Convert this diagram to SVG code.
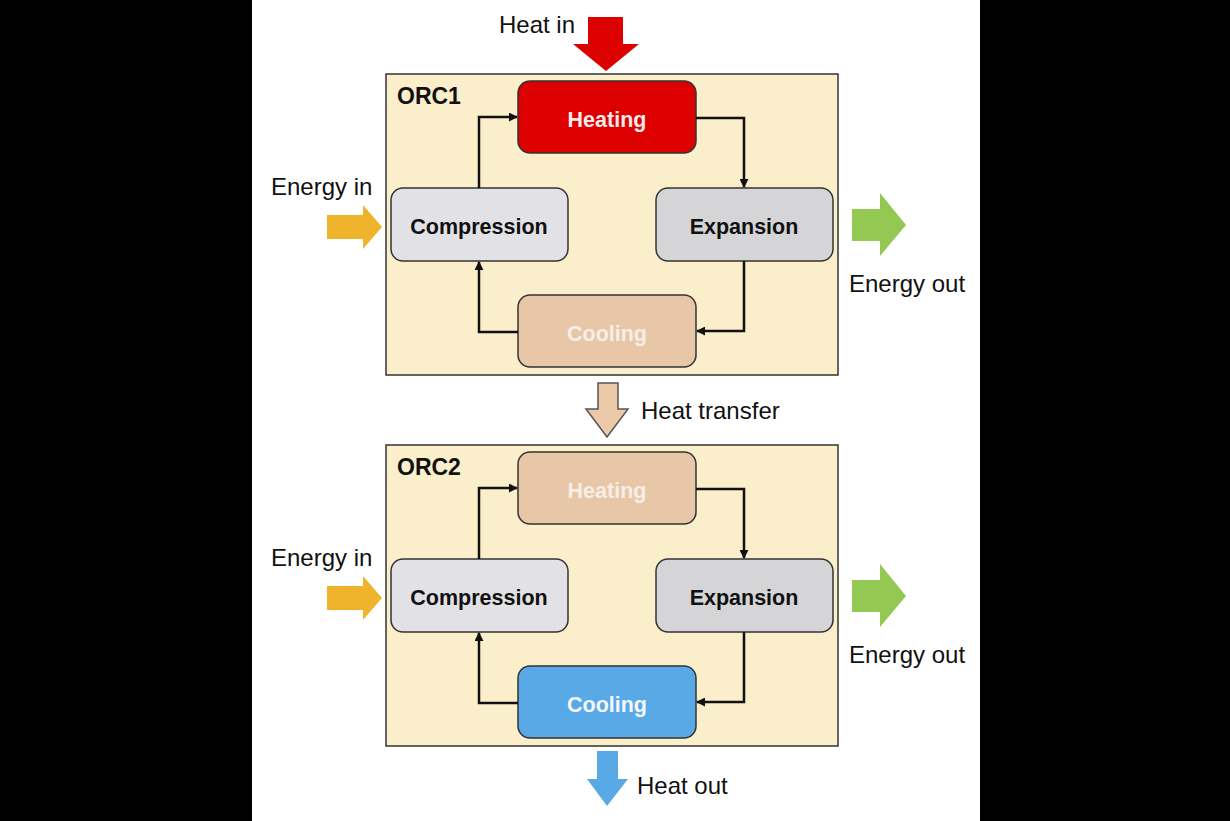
<svg xmlns="http://www.w3.org/2000/svg" width="1230" height="821" viewBox="0 0 1230 821">
<defs>
<style>
.lbl{font-family:"Liberation Sans",Arial,sans-serif;font-size:24px;fill:#111}
.orc{font-family:"Liberation Sans",Arial,sans-serif;font-size:23px;font-weight:bold;fill:#111}
.nt{font-family:"Liberation Sans",Arial,sans-serif;font-size:21.5px;font-weight:bold;text-anchor:middle}
.box{fill:#fbeecb;stroke:#333;stroke-width:1.5}
.node{stroke:#333;stroke-width:1.5}
.conn{fill:none;stroke:#111;stroke-width:2.5}
</style>
<marker id="ah" viewBox="0 0 10 10" refX="9" refY="5" markerWidth="3.8" markerHeight="3.6" orient="auto" markerUnits="strokeWidth">
<path d="M0,0 L10,5 L0,10 z" fill="#111"/>
</marker>
</defs>
<rect x="0" y="0" width="1230" height="821" fill="#000"/>
<rect x="252" y="0" width="728" height="821" fill="#fff"/>

<!-- ORC1 -->
<g id="orc1">
<rect class="box" x="386" y="74" width="452" height="301"/>
<text class="orc" x="397" y="104">ORC1</text>
</g>
<g id="heating1">
<rect class="node" x="518" y="81" width="178" height="72" rx="12" fill="#dc0000"/>
<text class="nt" x="607" y="127" fill="#fbeaea">Heating</text>
</g>
<g id="compression1">
<rect class="node" x="391" y="188" width="177" height="73" rx="12" fill="#e2e2e6"/>
<text class="nt" x="479" y="234" fill="#111">Compression</text>
</g>
<g id="expansion1">
<rect class="node" x="656" y="188" width="177" height="73" rx="12" fill="#d5d5d7"/>
<text class="nt" x="744" y="234" fill="#111">Expansion</text>
</g>
<g id="cooling1">
<rect class="node" x="518" y="295" width="178" height="72" rx="12" fill="#e8c6a8"/>
<text class="nt" x="607" y="341" fill="#f7efe7">Cooling</text>
</g>

<!-- ORC2 -->
<g id="orc2">
<rect class="box" x="386" y="445" width="452" height="301"/>
<text class="orc" x="397" y="475">ORC2</text>
</g>
<g id="heating2">
<rect class="node" x="518" y="452" width="178" height="72" rx="12" fill="#e8c6a8"/>
<text class="nt" x="607" y="498" fill="#f7efe7">Heating</text>
</g>
<g id="compression2">
<rect class="node" x="391" y="559" width="177" height="73" rx="12" fill="#e2e2e6"/>
<text class="nt" x="479" y="605" fill="#111">Compression</text>
</g>
<g id="expansion2">
<rect class="node" x="656" y="559" width="177" height="73" rx="12" fill="#d5d5d7"/>
<text class="nt" x="744" y="605" fill="#111">Expansion</text>
</g>
<g id="cooling2">
<rect class="node" x="518" y="666" width="178" height="72" rx="12" fill="#5aa9e7"/>
<text class="nt" x="607" y="712" fill="#f4f8fc">Cooling</text>
</g>

<!-- connectors -->
<g id="connectors">
<path class="conn" d="M479,188 V117 H517" marker-end="url(#ah)"/>
<path class="conn" d="M696,118 H744 V187" marker-end="url(#ah)"/>
<path class="conn" d="M744,261 V331 H697" marker-end="url(#ah)"/>
<path class="conn" d="M518,332 H479 V262" marker-end="url(#ah)"/>
<path class="conn" d="M479,559 V488 H517" marker-end="url(#ah)"/>
<path class="conn" d="M696,489 H744 V558" marker-end="url(#ah)"/>
<path class="conn" d="M744,632 V702 H697" marker-end="url(#ah)"/>
<path class="conn" d="M518,703 H479 V633" marker-end="url(#ah)"/>
</g>

<!-- flow arrows -->
<g id="heat-in">
<polygon points="588,17 623,17 623,44 639,44 606,71 573,44 588,44" fill="#dc0000"/>
<text class="lbl" x="499" y="33">Heat in</text>
</g>
<g id="energy-in-1">
<polygon points="327,215 363,215 363,205 382,227 363,249 363,239 327,239" fill="#f0b42c"/>
<text class="lbl" x="271" y="195">Energy in</text>
</g>
<g id="energy-out-1">
<polygon points="852,209 880,209 880,193 906,225 880,256 880,241 852,241" fill="#93c853"/>
<text class="lbl" x="849" y="292">Energy out</text>
</g>
<g id="heat-transfer">
<polygon points="598,383 618,383 618,409 628,409 607,437 586,409 598,409" fill="#ecc9a9" stroke="#555" stroke-width="1.5"/>
<text class="lbl" x="641" y="419">Heat transfer</text>
</g>
<g id="energy-in-2">
<polygon points="327,586 363,586 363,576 382,598 363,620 363,610 327,610" fill="#f0b42c"/>
<text class="lbl" x="271" y="566">Energy in</text>
</g>
<g id="energy-out-2">
<polygon points="852,580 880,580 880,564 906,596 880,627 880,612 852,612" fill="#93c853"/>
<text class="lbl" x="849" y="663">Energy out</text>
</g>
<g id="heat-out">
<polygon points="597,751 618,751 618,779 628,779 607,806 587,779 597,779" fill="#5aa9e7"/>
<text class="lbl" x="637" y="794">Heat out</text>
</g>
</svg>
